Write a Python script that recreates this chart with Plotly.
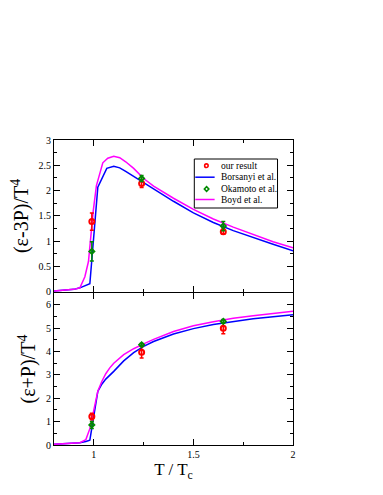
import plotly.graph_objects as go
from plotly.subplots import make_subplots

# Borsanyi et al. (blue) and Boyd et al. (magenta) curves
t_bor_top = [0.80, 0.85, 0.90, 0.93, 0.96, 0.98, 1.02, 1.065, 1.10, 1.13, 1.16, 1.20, 1.25, 1.30, 1.35, 1.40,
             1.50, 1.60, 1.70, 1.80, 1.90, 2.00]
e3p_bor = [0.02, 0.03, 0.05, 0.08, 0.12, 0.16, 2.07, 2.44, 2.48, 2.45, 2.38, 2.28, 2.15, 2.03, 1.91, 1.79,
           1.56, 1.37, 1.21, 1.07, 0.94, 0.81]

t_boyd_top = [0.80, 0.85, 0.90, 0.93, 0.955, 0.973, 0.997, 1.013, 1.045, 1.07, 1.10, 1.13, 1.16, 1.20, 1.25,
              1.30, 1.40, 1.50, 1.60, 1.70, 1.80, 1.90, 2.00]
e3p_boyd = [0.02, 0.03, 0.05, 0.08, 0.30, 0.60, 1.60, 2.10, 2.55, 2.64, 2.68, 2.65, 2.57, 2.44, 2.24,
            2.09, 1.85, 1.63, 1.44, 1.28, 1.13, 0.99, 0.87]

t_bor_bot = [0.80, 0.85, 0.90, 0.93, 0.96, 0.98, 1.02, 1.04, 1.06, 1.085, 1.10, 1.15, 1.20, 1.25, 1.30,
             1.40, 1.50, 1.60, 1.70, 1.80, 1.90, 2.00]
ep_bor = [0.03, 0.05, 0.07, 0.10, 0.15, 0.21, 2.29, 2.60, 2.82, 3.00, 3.15, 3.60, 3.95, 4.22, 4.43,
          4.75, 4.98, 5.16, 5.29, 5.40, 5.49, 5.57]

t_boyd_bot = [0.80, 0.85, 0.90, 0.93, 0.96, 0.98, 0.99, 1.00, 1.02, 1.04, 1.06, 1.08, 1.10, 1.15, 1.20,
              1.25, 1.30, 1.40, 1.50, 1.60, 1.70, 1.80, 1.90, 2.00]
ep_boyd = [0.03, 0.05, 0.07, 0.10, 0.23, 0.70, 1.10, 1.55, 2.30, 2.72, 3.05, 3.30, 3.50, 3.87, 4.12,
           4.33, 4.52, 4.86, 5.10, 5.27, 5.42, 5.53, 5.63, 5.72]

# our result (red) and Okamoto et al. (green) points
t_pts = [0.99, 1.24, 1.65]
e3p_ours = [1.39, 2.14, 1.19]
e3p_ours_err = [0.17, 0.08, 0.05]
e3p_oka = [0.80, 2.24, 1.30]
e3p_oka_err = [0.19, 0.06, 0.09]
ep_ours = [1.22, 3.97, 5.00]
ep_ours_err = [0.14, 0.25, 0.24]
ep_oka = [0.86, 4.29, 5.29]
ep_oka_err = [0.15, 0.05, 0.08]

legend_names = ["our result", "Borsanyi et al.", "Okamoto et al.", "Boyd et al."]

FONT = "Liberation Serif"
RED, BLUE, GREEN, MAG = "#ff0000", "#0000ff", "#008b00", "#ff00ff"

L, R, T_, B = 38, 285, 132, 437

# 1px gap so the two panels' shared border lines land on the same pixel row
fig = make_subplots(rows=2, cols=1, shared_xaxes=True, vertical_spacing=1.2 / (B - T_))

for row, (tb, yb, tm, ym, yo, yoe, yk, yke) in enumerate([
        (t_bor_top, e3p_bor, t_boyd_top, e3p_boyd, e3p_ours, e3p_ours_err, e3p_oka, e3p_oka_err),
        (t_bor_bot, ep_bor, t_boyd_bot, ep_boyd, ep_ours, ep_ours_err, ep_oka, ep_oka_err)], start=1):
    fig.add_trace(go.Scatter(x=tb, y=yb, mode="lines", line=dict(color=BLUE, width=1.5)), row=row, col=1)
    fig.add_trace(go.Scatter(x=tm, y=ym, mode="lines", line=dict(color=MAG, width=1.5)), row=row, col=1)
    fig.add_trace(go.Scatter(x=t_pts, y=yo, mode="markers",
                             marker=dict(symbol="circle-open", size=5, color=RED, line=dict(width=2)),
                             error_y=dict(array=yoe, color=RED, thickness=1.5, width=2)), row=row, col=1)
    fig.add_trace(go.Scatter(x=t_pts, y=yk, mode="markers",
                             marker=dict(symbol="diamond-open", size=4, color=GREEN, line=dict(width=1.8)),
                             error_y=dict(array=yke, color=GREEN, thickness=1.5, width=2)), row=row, col=1)

ax = dict(showline=True, linecolor="black", linewidth=1.2, mirror="ticks", ticks="inside",
          ticklen=6, tickcolor="black", showgrid=False, zeroline=False,
          tickfont=dict(family=FONT, size=10, color="black"))

fig.update_xaxes(**ax, range=[0.8, 2], tickvals=[1, 1.5, 2], ticktext=["1", "1.5", "2"],
                 minor=dict(ticks="inside", ticklen=3, dtick=0.25, tick0=0.75, tickcolor="black"))
fig.update_xaxes(title=dict(text="T / T<sub>c</sub>", font=dict(family=FONT, size=17, color="black"),
                            standoff=2), row=2, col=1)
fig.update_yaxes(**ax, range=[0, 3], dtick=0.5,
                 minor=dict(ticks="inside", ticklen=3, dtick=0.25, tickcolor="black"),
                 title=dict(text="(ε-3P)/T<sup>4</sup>", font=dict(family=FONT, size=20, color="black"),
                            standoff=4), row=1, col=1)
fig.update_yaxes(**ax, range=[0, 6.5], tickvals=[0, 1, 2, 3, 4, 5, 6],
                 minor=dict(ticks="inside", ticklen=3, dtick=0.5, tickcolor="black"),
                 title=dict(text="(ε+P)/T<sup>4</sup>", font=dict(family=FONT, size=20, color="black"),
                            standoff=4), row=2, col=1)


# compact legend box drawn in paper coordinates (plotly's own legend rows are too tall)
def px(x):
    return (x - L) / (R - L)


def py(y):
    return 1 - (y - T_) / (B - T_)


shapes = [dict(type="rect", xref="paper", yref="paper", x0=px(183), x1=px(269), y0=py(200), y1=py(151),
               line=dict(color="black", width=1), fillcolor="white", layer="above")]
annotations = []
row_y = [157.7, 169.2, 181, 191.5]
kinds = [("circle", RED), ("line", BLUE), ("diamond", GREEN), ("line", MAG)]
for name, yy, (kind, col) in zip(legend_names, row_y, kinds):
    if kind == "line":
        shapes.append(dict(type="line", xref="paper", yref="paper", x0=px(184), x1=px(204),
                           y0=py(yy), y1=py(yy), line=dict(color=col, width=1.5), layer="above"))
    elif kind == "circle":
        shapes.append(dict(type="circle", xref="paper", yref="paper", x0=px(193.7), x1=px(197.3),
                           y0=py(yy + 1.8), y1=py(yy - 1.8), line=dict(color=col, width=1.6), layer="above"))
    else:
        cx, cy = px(195.7), py(yy)
        dx, dy = 2.3 / (R - L), 2.3 / (B - T_)
        shapes.append(dict(type="path", xref="paper", yref="paper",
                           path=f"M {cx - dx} {cy} L {cx} {cy + dy} L {cx + dx} {cy} L {cx} {cy - dy} Z",
                           line=dict(color=col, width=1.6), layer="above"))
    annotations.append(dict(text=name, xref="paper", yref="paper", x=px(209), y=py(yy), xanchor="left",
                            yanchor="middle", showarrow=False,
                            font=dict(family=FONT, size=9.5, color="black")))

fig.update_layout(
    width=383, height=495,
    margin=dict(l=L, r=383 - R, t=T_, b=495 - B),
    plot_bgcolor="white", paper_bgcolor="white",
    font=dict(family=FONT, color="black"),
    showlegend=False,
    shapes=shapes, annotations=annotations,
)

fig.write_html("out.html")
